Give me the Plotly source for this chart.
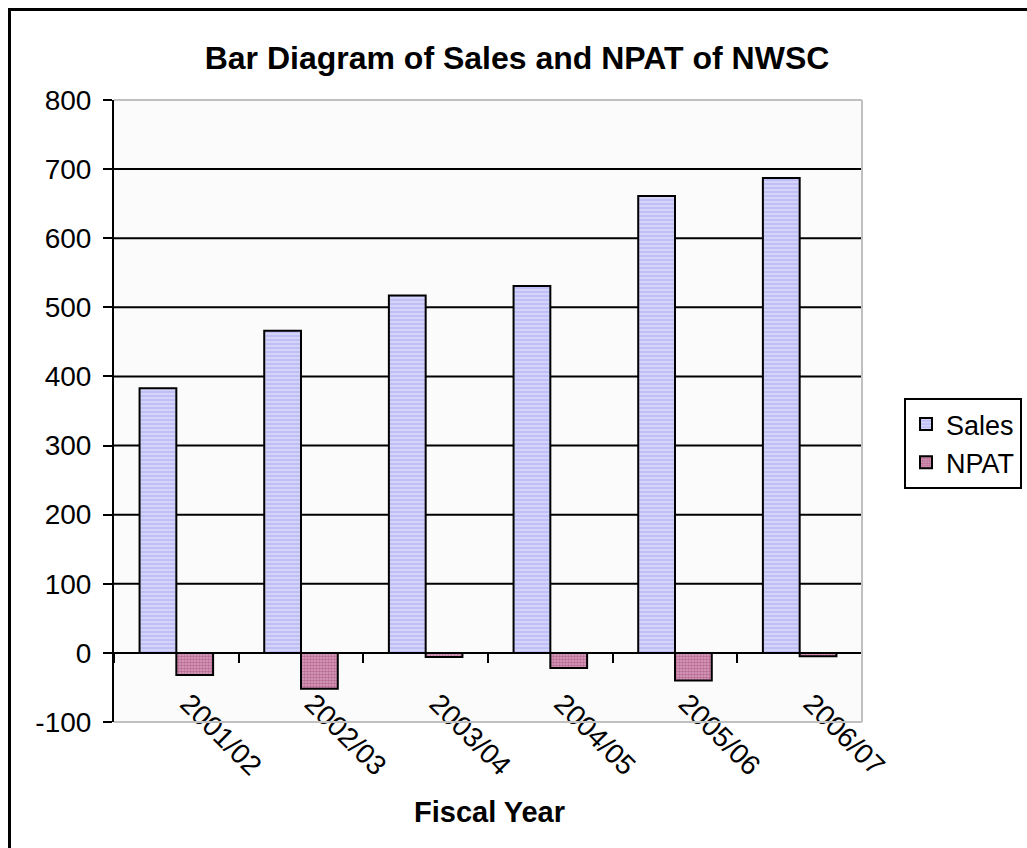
import plotly.graph_objects as go

years = ["2001/02", "2002/03", "2003/04", "2004/05", "2005/06", "2006/07"]
sales = [383, 466, 517, 531, 661, 687]
npat = [-32, -52, -6, -22, -40, -5]
y_ticks = [-100, 0, 100, 200, 300, 400, 500, 600, 700, 800]
y_tick_text = ["-100", "0", "100", "200", "300", "400", "500", "600", "700", "800"]
grid_vals = [100, 200, 300, 400, 500, 600, 700]

FONT = "Liberation Sans, Arial, sans-serif"
W, H = 1027, 848
L, R, T, B = 114, 165, 100, 126
pw, ph = W - L - R, H - T - B

def px_x(p):
    return (p - L) / pw

def px_y(p):
    return (H - B - p) / ph

fig = go.Figure()
fig.add_bar(
    name="Sales", x=years, y=sales,
    marker=dict(
        color="#ccccff",
        line=dict(color="black", width=2),
        pattern=dict(shape="-", fgcolor="#eaeaff", bgcolor="#bfbff5", size=4, solidity=0.5),
    ),
)
fig.add_bar(
    name="NPAT", x=years, y=npat,
    marker=dict(
        color="#d9a3c0",
        line=dict(color="black", width=2),
        pattern=dict(shape=".", fgcolor="#993366", size=3, solidity=0.6, fillmode="overlay"),
    ),
)

shapes = []
for v in grid_vals:
    shapes.append(dict(type="line", xref="paper", x0=0, x1=1, yref="y", y0=v, y1=v,
                       layer="between", line=dict(color="black", width=2)))
# plot area border (light gray)
for (x0, y0, x1, y1) in [(0, 1, 1, 1), (1, 0, 1, 1), (0, 0, 1, 0)]:
    shapes.append(dict(type="line", xref="paper", yref="paper", x0=x0, y0=y0, x1=x1, y1=y1,
                       layer="above", line=dict(color="#c0c0c0", width=2)))
# outer chart border
shapes.append(dict(type="rect", xref="paper", yref="paper",
                   x0=px_x(9.5), y0=px_y(9.5), x1=px_x(W + 20), y1=px_y(H + 20),
                   layer="above", line=dict(color="black", width=3)))

fig.update_layout(
    width=W, height=H,
    margin=dict(l=L, r=R, t=T, b=B, pad=0, autoexpand=False),
    paper_bgcolor="white",
    plot_bgcolor="#fbfbfb",
    font=dict(family=FONT, size=28, color="black"),
    barmode="group",
    bargap=0.41,
    bargroupgap=0,
    title=dict(text="<b>Bar Diagram of Sales and NPAT of NWSC</b>",
               x=517 / W, xanchor="center", y=1 - 58 / H, yanchor="middle",
               font=dict(size=32, family=FONT)),
    xaxis=dict(
        type="category", range=[-0.5, 5.5],
        anchor="free", position=1 / 9,
        tickson="boundaries", ticks="outside", ticklen=9, tickwidth=2, tickcolor="black",
        showline=True, linecolor="black", linewidth=2,
        showgrid=False, tickangle=45, tickfont=dict(size=28),
        ticklabelstandoff=22, ticklabelshift=12,
    ),
    yaxis=dict(
        range=[-100, 800], tickmode="array", tickvals=y_ticks, ticktext=y_tick_text,
        ticks="outside", ticklen=9, tickwidth=2, tickcolor="black",
        showline=True, linecolor="black", linewidth=2,
        showgrid=False, zeroline=False, tickfont=dict(size=28),
        ticklabelstandoff=6,
    ),
    legend=dict(
        x=px_x(904), y=px_y(398), xanchor="left", yanchor="top",
        bordercolor="black", borderwidth=2, bgcolor="white",
        font=dict(size=27), itemwidth=30,
    ),
    shapes=shapes,
    annotations=[dict(text="<b>Fiscal Year</b>", xref="paper", yref="paper",
                      x=px_x(489), y=px_y(812), xanchor="center", yanchor="middle",
                      showarrow=False, font=dict(size=29, family=FONT))],
)

fig.write_html("out.html")
